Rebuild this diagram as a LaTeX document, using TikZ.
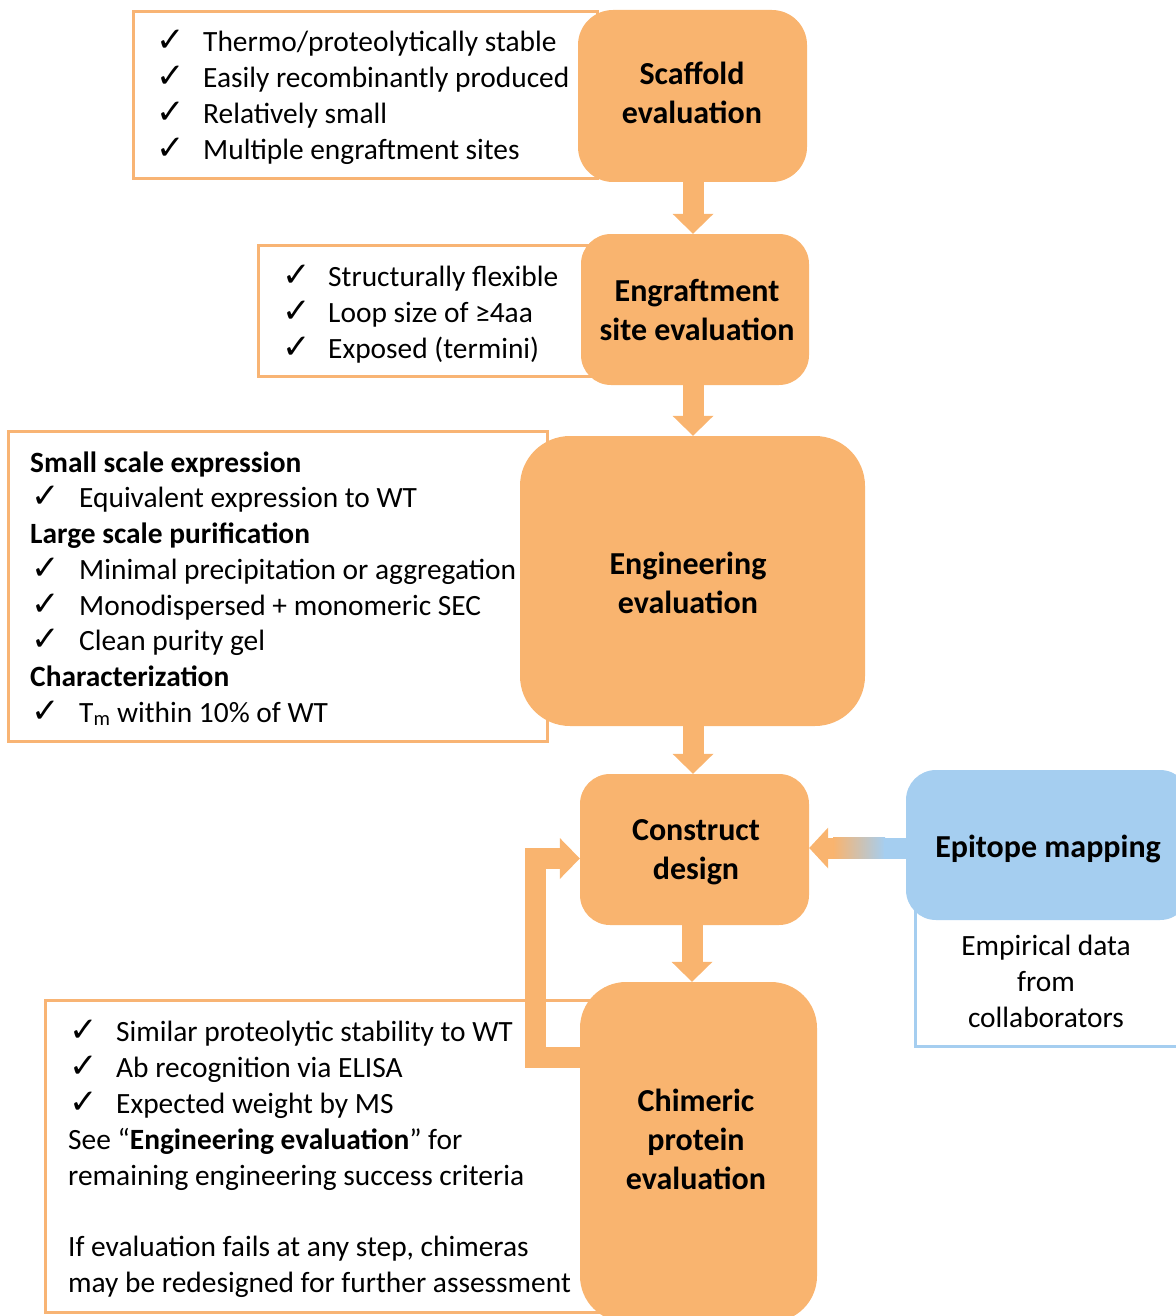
\documentclass[tikz,border=0pt]{standalone}
\usepackage{fontspec}
\setmainfont{Carlito}
\newfontfamily\symfont{DejaVu Sans}
\usetikzlibrary{arrows.meta,calc}
\definecolor{orfill}{HTML}{F9B46F}
\definecolor{orline}{HTML}{F8B474}
\definecolor{blfill}{HTML}{A5CEF0}
\newcommand\bodyfs{\fontsize{29.4}{36}\selectfont}
\newcommand\titlefs{\fontsize{32}{39}\selectfont\bfseries}
\newcommand\chkfs{\fontsize{34}{36}\selectfont\symfont}
\tikzset{
  obox/.style={rectangle, fill=orfill, draw=none, inner sep=0pt, rounded corners=#1},
  lbox/.style={rectangle, draw=orline, line width=3pt, fill=white, inner sep=0pt},
  bbox/.style={rectangle, draw=blfill, line width=3pt, fill=white, inner sep=0pt},
  epbox/.style={rectangle, fill=blfill, draw=none, inner sep=0pt, rounded corners=30pt},
  title/.style={align=center, font=\titlefs, inner sep=0pt},
  txt/.style={anchor=base west, inner sep=0pt, font=\bodyfs},
  chk/.style={anchor=base west, inner sep=0pt, font=\chkfs},
  barrow/.style={draw=orfill, line width=21pt, -{Triangle[width=41pt,length=20pt,line width=0pt]}},
}
\begin{document}
\begin{tikzpicture}[x=1pt,y=-1pt]
\useasboundingbox (0,0) rectangle (1175,1316);

% ---- left text frames
\node[lbox, minimum width=464pt, minimum height=167pt] (l1) at (365,95.5) {};
\node[lbox, minimum width=334pt, minimum height=131pt] (l2) at (425,310.5) {};
\node[lbox, minimum width=539pt, minimum height=310pt] (l3) at (277.5,586) {};
\node[lbox, minimum width=555pt, minimum height=312pt] (l4) at (322.5,1156) {};
\node[bbox, minimum width=275pt, minimum height=146pt] (emp) at (1052.5,973) {};

% ---- orange process boxes
\node[obox=35pt, minimum width=229pt, minimum height=172pt] (scaf) at (692.5,96) {};
\node[obox=30pt, minimum width=228pt, minimum height=151pt] (engr) at (695,309.5) {};
\node[obox=50pt, minimum width=345pt, minimum height=290pt] (engi) at (692.5,581) {};
\node[obox=30pt, minimum width=229pt, minimum height=151pt] (cons) at (694.5,849.5) {};
\node[obox=46pt, minimum width=237pt, minimum height=340pt] (chim) at (698.5,1152) {};

% ---- block arrows
\draw[barrow] (scaf.south -| 693,0) -- (engr.north -| 693,0);
\draw[barrow] (engr.south -| 693,0) -- (engi.north -| 693,0);
\draw[barrow] (engi.south -| 693,0) -- (cons.north -| 693,0);
\draw[barrow] (cons.south -| 692,0) -- (chim.north -| 692,0);
\draw[barrow, line join=miter] (chim.west |- 0,1057.5) -| (535,858.5) -- (cons.west |- 0,858.5);

% ---- gradient arrow from epitope mapping
\coordinate (gA) at (cons.east |- 0,848);
\coordinate (gB) at (913,848);
\fill[orfill] (gA) -- ($(gA)+(19,-20.5)$) -- ($(gA)+(19,20.5)$) -- cycle;
\fill[orfill] ($(gA)+(18.5,-10.5)$) rectangle ($(gA)+(25,10.5)$);
\shade[left color=orfill, right color=blfill] ($(gA)+(24,-10.5)$) rectangle ($(gA)+(76,10.5)$);
\fill[blfill] ($(gA)+(75,-10.5)$) rectangle ($(gB)+(0,10.5)$);

\node[epbox, minimum width=284pt, minimum height=150pt] (epi) at (1048,845) {};

% ---- titles
\node[title] (scafT) at (692,93) {Scaffold\\evaluation};
\node[title] (engrT) at (697,310) {Engraftment\\site evaluation};
\node[title] (engiT) at (688,583) {Engineering\\evaluation};
\node[title] (consT) at (696,852) {Construct\\design};
\node[title] (chimT) at (696,1139) {Chimeric\\protein\\evaluation};
\node[title] (epiT) at (1048,849) {Epitope mapping};
\node[align=center, font=\bodyfs, inner sep=0pt] (empT) at (1046,981) {Empirical data\\from\\collaborators};

% ---- block 1
\foreach \t [count=\i] in {Thermo/proteolytically stable, Easily recombinantly produced, Relatively small, Multiple engraftment sites} {
  \node[chk] (ca\i) at (156,16+36*\i) {✓};
  \node[txt] (ta\i) at (203,16+36*\i) {\t};
}
% ---- block 2
\foreach \t [count=\i] in {Structurally flexible, Loop size of ≥4aa, Exposed (termini)} {
  \node[chk] (cb\i) at (282,250+36*\i) {✓};
  \node[txt] (tb\i) at (328,250+36*\i) {\t};
}
% ---- block 3
\node[txt, font=\bodyfs\bfseries] (h1) at (30,472) {Small scale expression};
\node[chk] (cc1) at (31,507.75) {✓};
\node[txt] (tc1) at (79,507.75) {Equivalent expression to WT};
\node[txt, font=\bodyfs\bfseries] (h2) at (30,543.5) {Large scale purification};
\node[chk] (cc2) at (31,579.25) {✓};
\node[txt] (tc2) at (79,579.25) {Minimal precipitation or aggregation};
\node[chk] (cc3) at (31,615) {✓};
\node[txt] (tc3) at (79,615) {Monodispersed + monomeric SEC};
\node[chk] (cc4) at (31,650.75) {✓};
\node[txt] (tc4) at (79,650.75) {Clean purity gel};
\node[txt, font=\bodyfs\bfseries] (h3) at (30,686.5) {Characterization};
\node[chk] (cc5) at (31,722.25) {✓};
\node[txt] (tc5) at (79,722.25) {T\textsubscript{m} within 10\% of WT};
% ---- block 4
\node[chk] (cd1) at (69,1041) {✓};
\node[txt] (td1) at (116,1041) {Similar proteolytic stability to WT};
\node[chk] (cd2) at (69,1077) {✓};
\node[txt] (td2) at (116,1077) {Ab recognition via ELISA};
\node[chk] (cd3) at (69,1113) {✓};
\node[txt] (td3) at (116,1113) {Expected weight by MS};
\node[txt] (td4) at (68,1149) {See “\textbf{Engineering evaluation}” for};
\node[txt] (td5) at (68,1185) {remaining engineering success criteria};
\node[txt] (td6) at (68,1256) {If evaluation fails at any step, chimeras};
\node[txt] (td7) at (68,1292) {may be redesigned for further assessment};
\end{tikzpicture}
\end{document}
